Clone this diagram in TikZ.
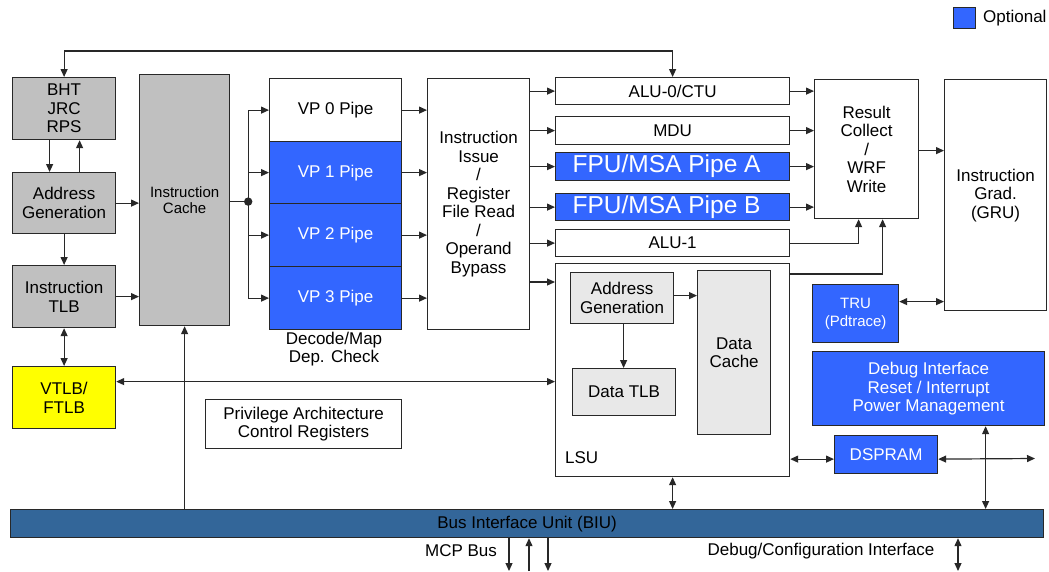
\documentclass[tikz,border=0pt]{standalone}
\usepackage{fontspec}
\setmainfont{Liberation Sans}
\usetikzlibrary{arrows.meta,calc}

\definecolor{optblue}{RGB}{51,102,255}
\definecolor{unitgray}{RGB}{192,192,192}
\definecolor{lsugray}{RGB}{232,232,232}
\definecolor{biublue}{RGB}{51,102,153}
\definecolor{linegray}{RGB}{40,40,40}
\definecolor{vtlbyellow}{RGB}{255,255,0}

\begin{document}
\begin{tikzpicture}[x=1pt,y=-1pt,
  font=\fontsize{17}{18.5}\selectfont,
  blk/.style={draw=linegray, line width=1.2pt, anchor=north west,
    align=center, inner sep=2pt, fill=white},
  grayblk/.style={blk, fill=unitgray},
  lightblk/.style={blk, fill=lsugray},
  optblk/.style={blk, fill=optblue, text=white},
  link/.style={draw=linegray, line width=1.2pt},
  arr/.style={link, -{Triangle[length=8pt,width=7pt]}},
  dbl/.style={link, {Triangle[length=8pt,width=7pt]}-{Triangle[length=8pt,width=7pt]}},
  lbl/.style={align=center, inner sep=0pt}
]
\useasboundingbox (0,0) rectangle (1049,571);
\fill[white] (0,0) rectangle (1049,571);

% legend
\node[optblk, minimum width=22pt, minimum height=21pt] (legsq) at (953,7) {};
\node[lbl, anchor=west] (legtxt) at (983,18) {Optional};

% fetch unit
\node[grayblk, minimum width=103pt, minimum height=62pt] (bht) at (12,77) {BHT\\JRC\\RPS};
\node[grayblk, minimum width=103pt, minimum height=61pt] (addr) at (12,172) {Address\\Generation};
\node[grayblk, minimum width=103pt, minimum height=62pt] (itlb) at (12,265) {Instruction\\TLB};
\node[blk, fill=vtlbyellow, minimum width=103pt, minimum height=62pt] (vtlb) at (12,366) {VTLB/\\FTLB};
\node[grayblk, font=\fontsize{15}{16.5}\selectfont, minimum width=90pt, minimum height=251pt] (icache) at (139,74) {Instruction\\Cache};

% decode pipes
\node[blk, minimum width=132pt, minimum height=63pt] (vp0) at (269,78) {VP 0 Pipe};
\node[optblk, minimum width=132pt, minimum height=62pt] (vp1) at (269,141) {VP 1 Pipe};
\node[optblk, minimum width=132pt, minimum height=63pt] (vp2) at (269,203) {VP 2 Pipe};
\node[optblk, minimum width=132pt, minimum height=63pt] (vp3) at (269,266) {VP 3 Pipe};
\node[lbl] (declbl) at (334,349) {Decode/Map\\Dep. Check};

\node[blk, minimum width=102pt, minimum height=251pt] (issue) at (427,78)
  {Instruction\\Issue\\/\\Register\\File Read\\/\\Operand\\Bypass};

% execution units
\node[blk, minimum width=234pt, minimum height=27pt] (alu0) at (555,77) {ALU-0/CTU};
\node[blk, minimum width=234pt, minimum height=28pt] (mdu) at (555,116) {MDU};
\node[optblk, font=\fontsize{24.5}{26}\selectfont, minimum width=234pt, minimum height=28pt] (fpua) at (555,152) {FPU/MSA Pipe A\hspace*{12pt}};
\node[optblk, font=\fontsize{24.5}{26}\selectfont, minimum width=234pt, minimum height=27pt] (fpub) at (555,193) {FPU/MSA Pipe B\hspace*{12pt}};
\node[blk, minimum width=234pt, minimum height=27pt] (alu1) at (555,229) {ALU-1};

% load/store unit
\node[blk, minimum width=234pt, minimum height=213pt] (lsu) at (555,263) {};
\node[lightblk, minimum width=103pt, minimum height=51pt] (lagen) at (570,272) {Address\\Generation};
\node[lightblk, minimum width=73pt, minimum height=164pt] (dcache) at (697,270) {Data\\Cache};
\node[lightblk, minimum width=103pt, minimum height=47pt] (dtlb) at (572,368) {Data TLB};
\node[lbl, anchor=west] (lsulbl) at (565,458) {LSU};

% writeback and graduation
\node[blk, minimum width=104pt, minimum height=139pt] (result) at (814,79) {Result\\Collect\\/\\WRF\\Write};
\node[blk, minimum width=102pt, minimum height=231pt] (gru) at (944,79) {Instruction\\Grad.\\(GRU)};

% optional debug blocks
\node[optblk, font=\fontsize{15}{18}\selectfont, minimum width=86pt, minimum height=58pt] (tru) at (812,284) {TRU\\(Pdtrace)};
\node[optblk, minimum width=232pt, minimum height=74pt] (debug) at (812,351) {Debug Interface\\Reset / Interrupt\\Power Management};
\node[optblk, minimum width=103pt, minimum height=38pt] (dspram) at (834,435) {DSPRAM};

\node[blk, minimum width=196pt, minimum height=49pt] (priv) at (205,399) {Privilege Architecture\\Control Registers};

% bus interface
\node[blk, fill=biublue, minimum width=1033pt, minimum height=28pt] (biu) at (10,509) {Bus Interface Unit (BIU)};
\node[lbl] (mcp) at (461,551) {MCP Bus};
\node[lbl] (dci) at (821,551) {Debug/Configuration Interface};

% ---- connectors ----
\coordinate (topline) at (0,51);
\draw[dbl] (bht.north) -- (bht.north |- topline) -| (alu0.north);

\draw[arr] ($(bht.south)+(-14.5,0)$) -- ($(addr.north)+(-14.5,0)$);
\draw[arr] ($(addr.north)+(15.5,0)$) -- ($(bht.south)+(15.5,0)$);
\draw[arr] (addr.south) -- (itlb.north);
\draw[arr] (addr.east) -- (addr.east -| icache.west);
\draw[arr] (itlb.east) -- (itlb.east -| icache.west);
\draw[dbl] (itlb.south) -- (vtlb.north);

\coordinate (vl) at ($(vtlb.east)+(0,-16)$);
\draw[dbl] (vl) -- (vl -| lsu.west);

\draw[arr] (icache.south |- biu.north) -- (icache.south);

% instruction cache fan-out
\coordinate (j) at ($(icache.east)+(18,1.5)$);
\draw[link] (icache.east |- j) -- (j);
\draw[link] (j |- vp0.west) -- (j |- vp3.west);
\fill[linegray] (j) circle (4.2pt);
\foreach \v in {vp0,vp1,vp2,vp3} {
  \draw[arr] (j |- \v.west) -- (\v.west);
  \draw[arr] (\v.east) -- (\v.east -| issue.west);
}

% issue to execution units
\foreach \u in {alu0,mdu,fpua,fpub,alu1} {
  \draw[arr] (issue.east |- \u.west) -- (\u.west);
}
\coordinate (lsuin) at ($(lsu.north west)+(0,19)$);
\draw[arr] (issue.east |- lsuin) -- (lsuin);

% results
\foreach \u in {alu0,mdu,fpua,fpub} {
  \draw[arr] (\u.east) -- (\u.east -| result.west);
}
\draw[arr] (alu1.east) -| ($(result.south)+(-8,0)$);
\draw[arr] ($(lsu.north east)+(0,11)$) -| ($(result.south)+(16,0)$);
\coordinate (rg) at ($(result.east)+(0,1.5)$);
\draw[arr] (rg) -- (rg -| gru.west);

\coordinate (tg) at ($(tru.east)+(0,-12)$);
\draw[dbl] (tg) -- (tg -| gru.west);

% inside LSU
\coordinate (ld) at ($(lagen.east)+(0,-2.5)$);
\draw[arr] (ld) -- (ld -| dcache.west);
\coordinate (lt) at ($(lagen.south)+(1.5,0)$);
\draw[arr] (lt) -- (lt |- dtlb.north);

% data scratchpad and debug
\coordinate (ds) at ($(dspram.west)+(0,4.5)$);
\draw[dbl] (ds -| lsu.east) -- (ds);
\coordinate (dsr) at (1035,458.5);
\draw[dbl] (ds -| dspram.east) -- (dsr);
\coordinate (dbx) at ($(debug.south)+(57,0)$);
\draw[dbl] (dbx) -- (dbx |- biu.north);
\draw[dbl] (lsu.south) -- (lsu.south |- biu.north);

% external bus ports
\coordinate (m1) at (509,571);
\coordinate (m2) at (529,571);
\coordinate (m3) at (548,571);
\coordinate (m4) at (958,571);
\draw[arr] (m1 |- biu.south) -- (m1);
\draw[arr] (m2) -- (m2 |- biu.south);
\draw[arr] (m3 |- biu.south) -- (m3);
\draw[dbl] (m4 |- biu.south) -- (m4);
\end{tikzpicture}
\end{document}
